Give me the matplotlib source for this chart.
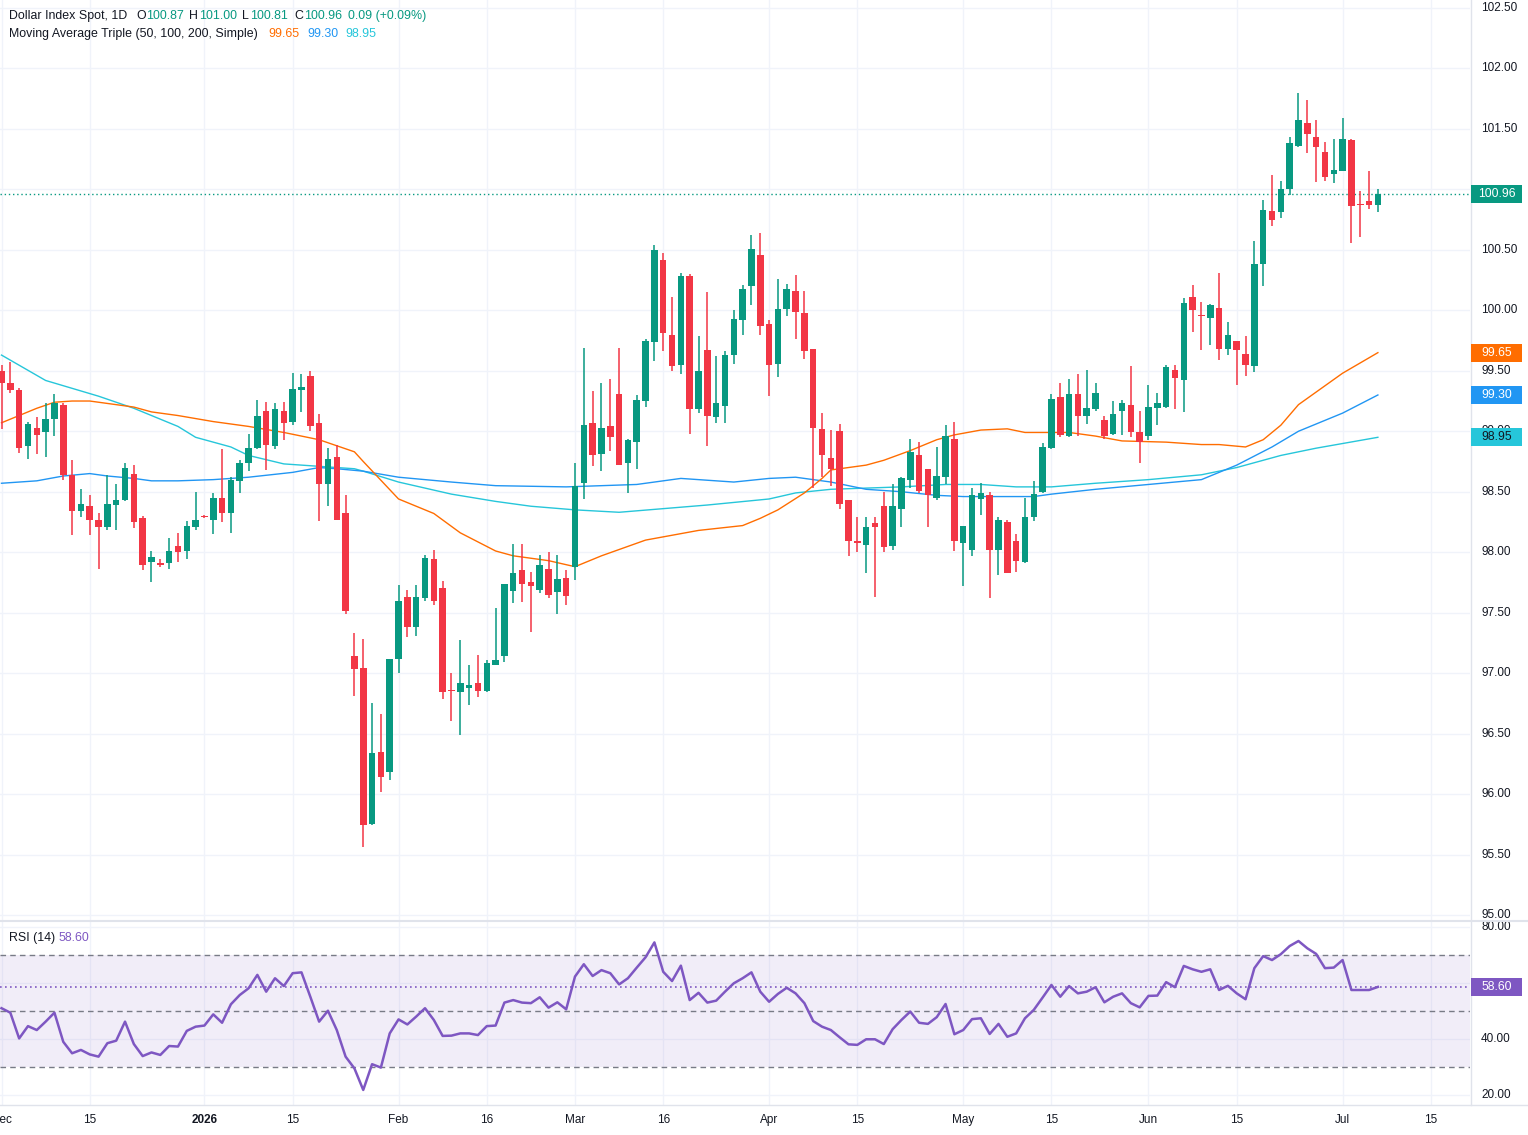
import matplotlib
matplotlib.use("Agg")
import matplotlib.pyplot as plt
from matplotlib.patches import Rectangle
from matplotlib.transforms import blended_transform_factory

W, H = 1528, 1135

# daily candles (weekdays), 1 Dec 2025 .. 7 Jul 2026
opens = [99.50, 99.40, 99.34, 98.88, 99.03, 98.99, 99.10, 99.22, 98.64, 98.34,
         98.38, 98.27, 98.21, 98.39, 98.43, 98.65, 98.28, 97.92, 97.91, 97.91,
         98.05, 98.01, 98.21, 98.30, 98.27, 98.45, 98.32, 98.59, 98.74, 98.86,
         99.17, 98.88, 99.17, 99.08, 99.34, 99.46, 99.07, 98.56, 98.79, 98.32,
         97.14, 97.04, 95.75, 96.35, 96.18, 97.12, 97.63, 97.38, 97.62, 97.94,
         97.70, 96.86, 96.84, 96.88, 96.92, 96.85, 97.07, 97.14, 97.68, 97.85,
         97.75, 97.69, 97.86, 97.67, 97.79, 97.88, 98.57, 99.07, 98.81, 99.04,
         99.31, 98.74, 98.91, 99.25, 99.74, 100.42, 99.80, 99.55, 100.28, 99.18,
         99.67, 99.12, 99.21, 99.63, 99.92, 100.20, 100.46, 99.89, 99.56, 100.01,
         100.16, 99.98, 99.68, 99.02, 98.78, 99.00, 98.43, 98.09, 98.06, 98.24,
         98.38, 98.05, 98.36, 98.60, 98.80, 98.69, 98.45, 98.62, 98.94, 98.08,
         98.02, 98.44, 98.47, 98.02, 98.25, 98.09, 97.92, 98.29, 98.50, 98.86,
         99.28, 98.96, 99.31, 99.13, 99.18, 99.09, 98.98, 99.17, 99.22, 98.99,
         98.96, 99.19, 99.20, 99.51, 99.42, 100.11, 99.96, 99.94, 100.02, 99.68,
         99.75, 99.64, 99.54, 100.38, 100.82, 100.81, 101.00, 101.36, 101.55, 101.43,
         101.31, 101.13, 101.15, 101.41, 100.88, 100.90, 100.87]
highs = [99.55, 99.57, 99.36, 99.08, 99.12, 99.23, 99.31, 99.23, 98.76, 98.52,
         98.47, 98.32, 98.64, 98.56, 98.74, 98.72, 98.30, 98.01, 97.94, 98.12,
         98.16, 98.26, 98.50, 98.31, 98.49, 98.85, 98.62, 98.76, 98.98, 99.26,
         99.24, 99.23, 99.24, 99.48, 99.47, 99.50, 99.14, 98.86, 98.89, 98.47,
         97.33, 97.28, 96.75, 96.66, 97.12, 97.73, 97.69, 97.73, 97.98, 98.02,
         97.76, 97.00, 97.27, 97.07, 97.15, 97.11, 97.54, 97.74, 98.07, 98.07,
         97.84, 97.98, 98.00, 97.98, 97.85, 98.74, 99.69, 99.33, 99.40, 99.43,
         99.69, 98.94, 99.30, 99.76, 100.54, 100.47, 100.11, 100.31, 100.30, 99.79,
         100.15, 99.62, 99.66, 100.00, 100.21, 100.62, 100.64, 99.92, 100.26, 100.22,
         100.29, 100.16, 99.68, 99.15, 99.01, 99.06, 98.43, 98.29, 98.29, 98.29,
         98.50, 98.56, 98.62, 98.94, 98.91, 98.69, 98.87, 99.05, 99.08, 98.22,
         98.53, 98.57, 98.50, 98.29, 98.27, 98.15, 98.45, 98.59, 98.90, 99.31,
         99.40, 99.43, 99.47, 99.51, 99.40, 99.13, 99.25, 99.26, 99.54, 99.17,
         99.38, 99.32, 99.55, 99.55, 100.10, 100.21, 100.07, 100.05, 100.31, 99.90,
         99.75, 99.79, 100.57, 100.91, 101.12, 101.07, 101.43, 101.80, 101.74, 101.57,
         101.39, 101.42, 101.59, 101.42, 100.99, 101.15, 101.00]
lows = [99.02, 99.32, 98.82, 98.77, 98.81, 98.79, 98.96, 98.60, 98.14, 98.29,
        98.14, 97.86, 98.18, 98.18, 98.42, 98.20, 97.85, 97.75, 97.88, 97.86,
        97.92, 97.94, 98.18, 98.28, 98.15, 98.25, 98.16, 98.49, 98.67, 98.85,
        98.68, 98.85, 98.93, 99.05, 99.16, 99.00, 98.26, 98.38, 98.27, 97.49,
        96.81, 95.56, 95.74, 96.02, 96.12, 97.00, 97.30, 97.31, 97.60, 97.56,
        96.79, 96.60, 96.49, 96.74, 96.80, 96.84, 97.07, 97.09, 97.58, 97.59,
        97.34, 97.66, 97.62, 97.49, 97.56, 97.77, 98.44, 98.71, 98.67, 98.84,
        98.72, 98.49, 98.69, 99.20, 99.58, 99.66, 99.50, 99.47, 98.98, 99.15,
        98.88, 99.07, 99.07, 99.56, 99.80, 100.04, 99.80, 99.29, 99.45, 99.95,
        99.76, 99.60, 98.53, 98.62, 98.55, 98.36, 97.97, 98.00, 97.83, 97.63,
        98.00, 98.02, 98.21, 98.53, 98.49, 98.21, 98.43, 98.56, 98.01, 97.72,
        97.97, 98.31, 97.62, 97.81, 97.83, 97.84, 97.91, 98.26, 98.49, 98.85,
        98.95, 98.95, 98.96, 99.06, 99.17, 98.94, 98.97, 98.97, 98.95, 98.74,
        98.93, 99.05, 99.19, 99.18, 99.16, 99.82, 99.67, 99.71, 99.59, 99.63,
        99.38, 99.46, 99.49, 100.20, 100.70, 100.76, 100.95, 101.35, 101.30, 101.06,
        101.07, 101.05, 101.15, 100.56, 100.61, 100.84, 100.81]
closes = [99.40, 99.34, 98.86, 99.06, 98.97, 99.10, 99.23, 98.64, 98.34, 98.40,
          98.27, 98.21, 98.40, 98.43, 98.70, 98.25, 97.89, 97.96, 97.89, 98.01,
          98.00, 98.22, 98.27, 98.29, 98.45, 98.32, 98.60, 98.74, 98.86, 99.13,
          98.89, 99.18, 99.07, 99.35, 99.37, 99.04, 98.56, 98.77, 98.27, 97.51,
          97.03, 95.74, 96.34, 96.14, 97.12, 97.60, 97.38, 97.63, 97.95, 97.60,
          96.84, 96.85, 96.92, 96.90, 96.85, 97.08, 97.11, 97.74, 97.83, 97.74,
          97.72, 97.89, 97.65, 97.78, 97.64, 98.55, 99.05, 98.80, 99.03, 98.95,
          98.72, 98.93, 99.26, 99.75, 100.50, 99.81, 99.54, 100.28, 99.18, 99.50,
          99.13, 99.23, 99.63, 99.93, 100.18, 100.51, 99.87, 99.55, 100.01, 100.18,
          99.99, 99.66, 99.03, 98.80, 98.69, 98.40, 98.09, 98.08, 98.21, 98.21,
          98.04, 98.38, 98.61, 98.83, 98.51, 98.47, 98.63, 98.96, 98.09, 98.22,
          98.47, 98.49, 98.02, 98.27, 97.83, 97.93, 98.29, 98.48, 98.87, 99.27,
          98.97, 99.31, 99.13, 99.19, 99.32, 98.96, 99.14, 99.23, 98.99, 98.91,
          99.20, 99.23, 99.53, 99.44, 100.06, 100.00, 99.95, 100.04, 99.68, 99.80,
          99.67, 99.55, 100.38, 100.83, 100.75, 101.00, 101.38, 101.57, 101.46, 101.35,
          101.10, 101.16, 101.42, 100.86, 100.87, 100.87, 100.96]

rsi = [51.0, 49.4, 40.2, 44.6, 43.2, 46.2, 49.4, 39.0, 34.9, 36.1,
       34.5, 33.7, 38.5, 39.4, 46.2, 38.2, 33.9, 35.2, 34.3, 37.5,
       37.3, 42.9, 44.4, 44.8, 48.8, 45.8, 52.4, 55.7, 58.1, 62.9,
       56.9, 61.7, 58.9, 63.5, 63.8, 55.1, 46.2, 50.1, 43.2, 33.7,
       29.5, 21.8, 31.0, 29.8, 42.0, 47.0, 45.2, 48.0, 51.0, 46.8,
       41.1, 41.2, 42.0, 42.0, 41.4, 44.6, 44.8, 53.0, 53.9, 53.0,
       52.8, 54.9, 51.2, 53.1, 50.6, 62.3, 66.7, 62.5, 64.6, 63.5,
       59.5, 61.7, 65.5, 69.2, 74.5, 64.0, 60.7, 66.2, 53.9, 56.5,
       53.0, 53.7, 56.9, 59.9, 61.7, 63.8, 56.9, 53.3, 56.1, 58.3,
       56.3, 52.8, 46.4, 44.4, 43.2, 40.6, 38.1, 37.9, 39.9, 39.9,
       38.2, 43.5, 46.8, 49.8, 45.8, 45.4, 47.8, 52.5, 41.7, 43.2,
       47.1, 47.4, 41.8, 45.4, 40.8, 42.0, 47.4, 50.4, 54.8, 59.3,
       55.1, 58.9, 56.3, 56.9, 58.5, 53.1, 55.1, 56.3, 52.8, 51.3,
       55.4, 55.5, 60.3, 58.5, 66.1, 64.9, 64.0, 64.9, 57.5, 59.0,
       56.3, 54.2, 65.3, 69.6, 68.2, 70.3, 73.2, 75.0, 72.4, 70.4,
       65.3, 65.5, 68.2, 57.5, 57.5, 57.5, 58.6]

# moving averages at sample candles
ma50_idx = [0, 2, 4, 6, 8, 10, 12, 15, 17, 20, 24, 28, 32, 34, 36, 38, 40, 41, 45, 49,
            52, 56, 58, 62, 65, 68, 73, 79, 84, 86, 88, 91, 93, 94, 98, 100, 103, 106,
            108, 111, 114, 116, 119, 121, 124, 127, 132, 136, 138, 141, 143, 145, 147,
            152, 156]
ma50 = [99.07, 99.13, 99.19, 99.24, 99.25, 99.25, 99.23, 99.20, 99.16, 99.13, 99.08,
        99.04, 98.99, 98.96, 98.93, 98.88, 98.83, 98.75, 98.44, 98.32, 98.16, 98.01,
        97.97, 97.93, 97.88, 97.97, 98.10, 98.18, 98.22, 98.28, 98.35, 98.49, 98.61,
        98.68, 98.72, 98.76, 98.84, 98.93, 98.97, 99.01, 99.02, 98.99, 98.99, 98.99,
        98.96, 98.92, 98.91, 98.89, 98.89, 98.87, 98.93, 99.05, 99.22, 99.48, 99.65]
ma100_idx = [0, 4, 7, 10, 12, 15, 17, 20, 24, 28, 33, 36, 38, 41, 45, 51, 56, 64,
             68, 72, 77, 83, 87, 90, 94, 98, 102, 106, 109, 113, 117, 119, 124, 130,
             136, 140, 144, 147, 152, 156]
ma100 = [98.57, 98.59, 98.63, 98.65, 98.63, 98.61, 98.59, 98.59, 98.60, 98.62, 98.66,
         98.70, 98.69, 98.67, 98.62, 98.58, 98.55, 98.54, 98.55, 98.56, 98.61, 98.58,
         98.61, 98.62, 98.58, 98.52, 98.50, 98.47, 98.46, 98.46, 98.46, 98.48, 98.52,
         98.56, 98.60, 98.72, 98.87, 99.00, 99.15, 99.30]
ma200_idx = [0, 5, 11, 15, 17, 20, 22, 26, 28, 32, 34, 36, 40, 41, 45, 51, 56, 60,
             65, 70, 80, 87, 90, 94, 98, 102, 107, 111, 115, 119, 124, 130, 136, 140,
             145, 149, 156]
ma200 = [99.63, 99.42, 99.29, 99.19, 99.13, 99.04, 98.95, 98.87, 98.80, 98.73, 98.72,
         98.71, 98.69, 98.67, 98.58, 98.48, 98.42, 98.38, 98.35, 98.33, 98.39, 98.44,
         98.49, 98.52, 98.53, 98.54, 98.56, 98.56, 98.54, 98.54, 98.57, 98.60, 98.64,
         98.70, 98.80, 98.86, 98.95]

tick_idx = [0, 10, 23, 33, 45, 55, 65, 75, 87, 97, 109, 119, 130, 140, 152, 162]
tick_lbl = ["Dec", "15", "2026", "15", "Feb", "16", "Mar", "16", "Apr", "15",
            "May", "15", "Jun", "15", "Jul", "15"]

UP = "#089981"
DOWN = "#f23645"
C50 = "#ff6d00"
C100 = "#2196f3"
C200 = "#26c6da"
PURPLE = "#7e57c2"
TXT = "#131722"
GRID = "#f0f3fa"
BORDER = "#e0e3eb"

plt.rcParams['font.family'] = ['Liberation Sans', 'DejaVu Sans']

fig = plt.figure(figsize=(W / 100, H / 100), dpi=100)
fig.patch.set_facecolor("white")

ax = fig.add_axes([0, 1 - 920 / H, 1470 / W, 920 / H])
ax2 = fig.add_axes([0, 1 - 1105 / H, 1470 / W, 184 / H])

xmin, xmax = -1.5 / 8.823, (1470 - 1.5) / 8.823
for a in (ax, ax2):
    a.set_xlim(xmin, xmax)
    for s in a.spines.values():
        s.set_visible(False)
    a.set_xticks([])
    a.set_yticks([])
    for t in tick_idx:
        a.axvline(t, color=GRID, lw=1, zorder=0)

ax.set_ylim(102.5 - 912 / 120.93, 102.5 + 8 / 120.93)
ax2.set_ylim(40 - 66 / 2.8, 40 + 118 / 2.8)

# horizontal grid
price_levels = [95.0 + 0.5 * k for k in range(16)]
for p in price_levels:
    ax.axhline(p, color=GRID, lw=1, zorder=0)
for r in (20, 40, 60, 80):
    ax2.axhline(r, color=GRID, lw=1, zorder=0)

# candles
n = len(closes)
xs = list(range(n))
cols = [UP if closes[i] >= opens[i] else DOWN for i in xs]
bottoms = [min(opens[i], closes[i]) for i in xs]
heights = [max(abs(closes[i] - opens[i]), 0.012) for i in xs]
ax.vlines(xs, lows, highs, colors=cols, lw=1.1, zorder=3)
ax.bar(xs, heights, bottom=bottoms, width=0.74, color=cols, lw=0, zorder=4)

# moving averages
ax.plot(ma200_idx, ma200, color=C200, lw=1.0, zorder=2)
ax.plot(ma100_idx, ma100, color=C100, lw=1.0, zorder=2)
ax.plot(ma50_idx, ma50, color=C50, lw=1.0, zorder=2)

# last price line
last = closes[-1]
ax.axhline(last, color=UP, lw=1, ls=(0, (1, 2)), zorder=2)

# RSI pane
ax2.axhspan(30, 70, color=PURPLE, alpha=0.1, lw=0, zorder=0)
for lvl in (70, 50, 30):
    ax2.axhline(lvl, color="#787b86", lw=1, ls=(0, (4, 3)), zorder=1)
ax2.plot(xs, rsi, color=PURPLE, lw=1.8, zorder=3)
ax2.axhline(rsi[-1], color=PURPLE, lw=1.2, ls=(0, (1, 2)), zorder=2)

# pane borders
fig.add_artist(plt.Line2D([0, 1], [1 - 920.5 / H] * 2, color=BORDER, lw=1.5))
fig.add_artist(plt.Line2D([0, 1], [1 - 1105 / H] * 2, color=BORDER, lw=1))
fig.add_artist(plt.Line2D([1470.5 / W] * 2, [1 - 1105 / H, 1], color=BORDER, lw=1))

# tags on the price scale
tags = [(ax, last, UP, "white"), (ax, ma50[-1], C50, "white"),
        (ax, ma100[-1], C100, "white"), (ax, ma200[-1], C200, TXT),
        (ax2, rsi[-1], PURPLE, "white")]

# price scale labels (skip the ones the tags hide)
tr = blended_transform_factory(ax.transAxes, ax.transData)
for p in price_levels:
    if abs(p - last) < 0.08:
        continue
    ax.text(1481 / 1470, p, f"{p:.2f}", transform=tr, ha="left", va="center",
            fontsize=8.5, color=TXT, clip_on=False, zorder=1)
tr2 = blended_transform_factory(ax2.transAxes, ax2.transData)
for r in (20, 40, 80):
    ax2.text(1481 / 1470, r, f"{r:.2f}", transform=tr2, ha="left", va="center",
             fontsize=8.5, color=TXT, clip_on=False)


def tag(a, value, bg, fg):
    ypix = a.transData.transform((0, value))[1]
    yf = ypix / H
    fig.add_artist(Rectangle((1471 / W, yf - 9 / H), 51 / W, 18 / H,
                             facecolor=bg, edgecolor="none", zorder=10))
    fig.text(1496.5 / W, yf, f"{value:.2f}", ha="center", va="center",
             fontsize=8.7, color=fg, zorder=11)


for a, v, bg, fg in tags:
    tag(a, v, bg, fg)

# date labels
for t, lbl in zip(tick_idx, tick_lbl):
    xf = (1.5 + 8.823 * t) / W
    fig.text(xf, 1 - 1120 / H, lbl, ha="center", va="center", fontsize=8.5,
             color=TXT, fontweight="bold" if lbl == "2026" else "normal")

# header legend


def put(xpx, ypx, s, c):
    fig.text(xpx / W, 1 - ypx / H, s, ha="left", va="center", fontsize=8.9, color=c)


put(9, 16, "Dollar Index Spot, 1D", TXT)
put(136, 16, "O", TXT)
put(146, 16, f"{opens[-1]:.2f}", UP)
put(189, 16, "H", TXT)
put(199, 16, f"{highs[-1]:.2f}", UP)
put(242, 16, "L", TXT)
put(250, 16, f"{lows[-1]:.2f}", UP)
put(294, 16, "C", TXT)
put(304, 16, f"{closes[-1]:.2f}", UP)
chg = closes[-1] - closes[-2]
put(348, 16, f"{chg:.2f} (+{chg / closes[-2] * 100:.2f}%)", UP)
put(9, 34, "Moving Average Triple (50, 100, 200, Simple)", TXT)
put(268, 34, f"{ma50[-1]:.2f}", C50)
put(307, 34, f"{ma100[-1]:.2f}", C100)
put(345, 34, f"{ma200[-1]:.2f}", C200)
put(9, 938, "RSI (14)", TXT)
put(59, 938, f"{rsi[-1]:.2f}", PURPLE)

fig.savefig("out.png", dpi=100, facecolor="white")
